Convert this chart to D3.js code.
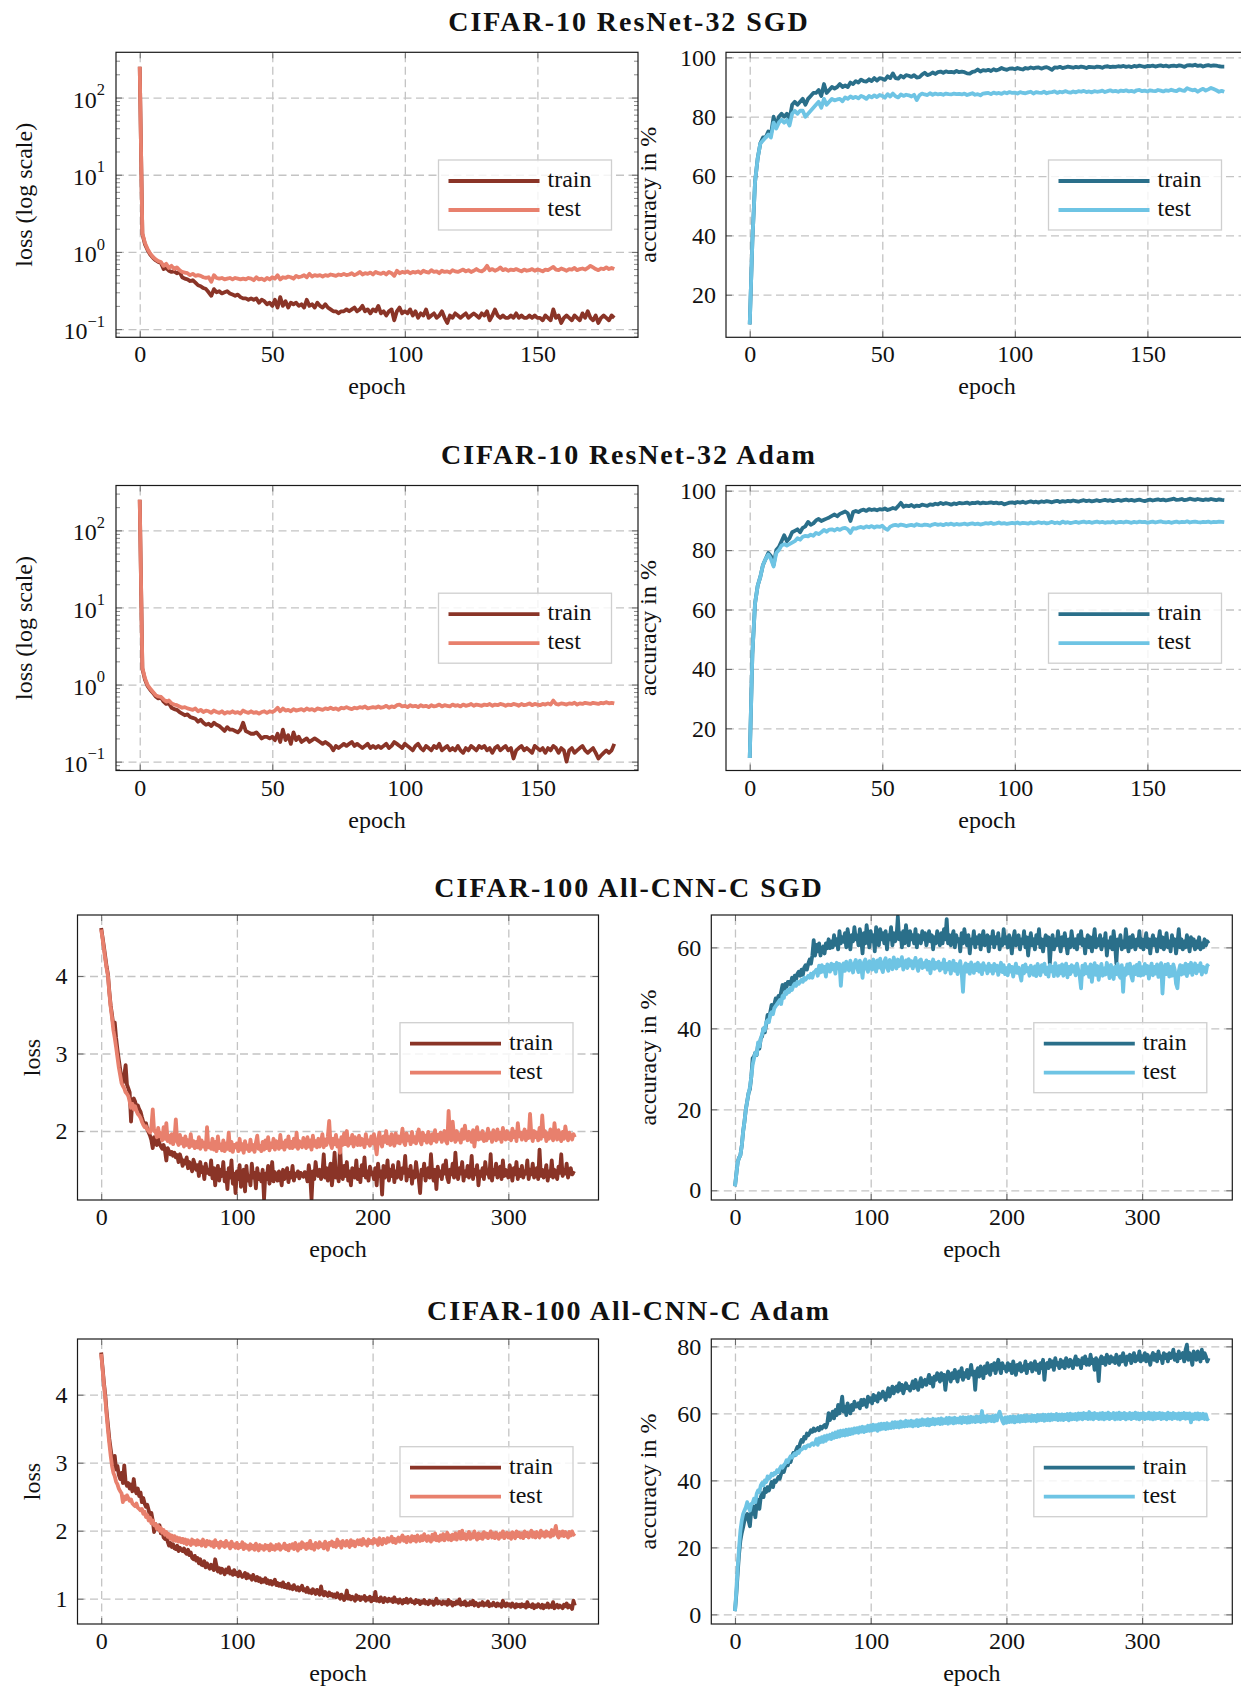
<!DOCTYPE html>
<html><head><meta charset="utf-8">
<script src="https://cdn.jsdelivr.net/npm/d3@7"></script>
<style>
body{margin:0;background:#fff;}
svg{display:block;}
svg text{font-family:"Liberation Serif","Times New Roman",serif !important;fill:#111;}
</style></head><body>
<svg id="fig" width="1241" height="1688"></svg>
<script>
// ---------------- DATA ----------------
const titles = ["CIFAR-10 ResNet-32 SGD","CIFAR-10 ResNet-32 Adam","CIFAR-100 All-CNN-C SGD","CIFAR-100 All-CNN-C Adam"];
const seriesNames = ["train","test"];
const xTicks10 = [0,50,100,150];
const xTicks100 = [0,100,200,300];
const logTicks = [0.1,1,10,100];
const logTickExps = ["−1","0","1","2"];
const accTicks10 = [20,40,60,80,100];
const lossTicksSgd100 = [2,3,4];
const accTicksSgd100 = [0,20,40,60];
const lossTicksAdam100 = [1,2,3,4];
const accTicksAdam100 = [0,20,40,60,80];
const xLabel = "epoch";
const yLabels = ["loss (log scale)","accuracy in %","loss"];

const c10SgdTrainLoss = [250,1.7,1.25,1.05,0.92,0.84,0.78,0.74,0.72,0.6,
0.62,0.57,0.55,0.56,0.53,0.55,0.47,0.45,0.44,0.42,
0.43,0.4,0.37,0.36,0.34,0.33,0.3,0.27,0.33,0.3,
0.31,0.29,0.3,0.31,0.29,0.28,0.27,0.28,0.26,0.25,
0.25,0.24,0.25,0.24,0.25,0.22,0.24,0.23,0.21,0.22,
0.2,0.24,0.19,0.26,0.2,0.23,0.19,0.22,0.21,0.22,
0.2,0.21,0.19,0.24,0.2,0.21,0.19,0.22,0.2,0.19,
0.21,0.19,0.18,0.17,0.17,0.16,0.17,0.17,0.18,0.17,
0.18,0.19,0.17,0.18,0.2,0.17,0.18,0.16,0.18,0.17,
0.2,0.16,0.17,0.15,0.17,0.18,0.13,0.17,0.19,0.16,
0.17,0.16,0.18,0.15,0.17,0.14,0.16,0.15,0.18,0.14,
0.15,0.16,0.14,0.15,0.17,0.14,0.12,0.15,0.14,0.16,
0.15,0.14,0.15,0.16,0.14,0.15,0.16,0.15,0.14,0.16,
0.15,0.17,0.13,0.15,0.18,0.15,0.14,0.15,0.14,0.14,
0.15,0.14,0.16,0.14,0.15,0.14,0.14,0.15,0.14,0.15,
0.14,0.14,0.13,0.15,0.14,0.13,0.18,0.14,0.15,0.12,
0.14,0.15,0.14,0.13,0.15,0.14,0.13,0.16,0.14,0.17,
0.14,0.13,0.15,0.12,0.14,0.15,0.14,0.13,0.15,0.14];
const c10SgdTestLoss = [250,1.75,1.3,1.08,0.95,0.86,0.8,0.76,0.74,0.66,
0.7,0.62,0.66,0.6,0.63,0.58,0.55,0.54,0.53,0.5,
0.52,0.49,0.5,0.49,0.47,0.46,0.47,0.41,0.5,0.46,
0.45,0.46,0.44,0.45,0.46,0.44,0.46,0.45,0.44,0.45,
0.44,0.46,0.45,0.43,0.47,0.44,0.45,0.43,0.46,0.44,
0.47,0.45,0.5,0.44,0.47,0.46,0.48,0.47,0.45,0.49,
0.47,0.48,0.5,0.47,0.52,0.48,0.5,0.49,0.5,0.48,
0.5,0.49,0.51,0.5,0.49,0.51,0.5,0.52,0.5,0.51,
0.53,0.5,0.52,0.55,0.51,0.53,0.52,0.54,0.51,0.55,
0.53,0.52,0.54,0.51,0.55,0.53,0.49,0.57,0.53,0.55,
0.54,0.56,0.53,0.55,0.54,0.56,0.53,0.57,0.55,0.54,
0.58,0.55,0.56,0.53,0.57,0.55,0.56,0.54,0.58,0.56,
0.55,0.57,0.59,0.56,0.58,0.55,0.57,0.6,0.57,0.56,
0.59,0.66,0.58,0.6,0.57,0.59,0.63,0.58,0.6,0.57,
0.59,0.58,0.6,0.58,0.56,0.59,0.57,0.58,0.6,0.57,
0.59,0.58,0.56,0.59,0.58,0.61,0.64,0.59,0.58,0.61,
0.59,0.57,0.6,0.59,0.62,0.58,0.6,0.61,0.59,0.62,
0.66,0.63,0.6,0.58,0.61,0.6,0.63,0.6,0.62,0.6];
const c10SgdTrainAcc = [10,38,58,66,71,73,73,75,74,80,
77,80,81,80,81,79,84,85,84,85,
86,84,86,87,88,88,89,87,91,88,
89,90,89.5,90,91,90,90.5,90,91.5,91,
92,91.5,92.5,92,91.8,92.6,92,93,92.2,93,
92.8,92.4,93.6,93,94.6,93,92.8,93.8,93.2,94,
93.8,93.4,94,93.2,93.3,94.2,94.8,94,94.3,94.9,
94.4,95,95.2,94.8,95.3,95,95.1,94.9,95.4,95,
95.2,95,94.6,94.5,95.1,95.3,95.9,95.2,95.7,95.5,
95.8,95.4,96,95.6,95.9,96.4,96,95.8,96.2,96.3,
96,96.4,96.1,95.9,96.4,96.2,96.6,96.3,96.5,96.6,
96.2,96.5,96.7,96.3,95.8,96.6,96.5,96.8,96.4,96.6,
96.9,96.7,96.5,96.8,96.6,96.9,96.7,96.4,96.8,96.7,
96.6,96.9,96.8,96.5,96.9,97,96.7,96.9,96.8,97,
96.9,97.1,96.8,97,96.7,97.1,96.9,97.2,97,96.8,
97.1,97,97.2,96.9,97.1,97.3,97,97.2,96.9,97.1,
97.2,97,97.3,97.1,96.8,97.3,97.4,97.2,97.5,97.1,
97.3,96.9,97.2,97.4,97.1,97.3,97.2,97,96.9,96.9];
const c10SgdTestAcc = [10,38,58,66,71,72,73,74,73,78,
76,78,79,78,79,77,81,82,81,82,
82,80,81,82,83,84,85,83,86,84,
85,86,85.5,85.8,86,85.2,86.5,86,86.8,86.3,
86.7,86.2,87,86.6,86,87,86.5,87.2,86.6,87.3,
87,86.4,87.6,86.8,87.8,86.9,86.5,87.5,87,87.4,
87.2,86.8,87.4,85.6,87.2,87.8,87.5,87.3,87.9,87.4,
87.8,87.5,87.7,87.4,87.8,87.6,87.5,87.8,87.6,87.7,
87.5,87.8,87.3,87.6,87.9,87.4,87.6,87.2,87.8,87.9,
88,87.6,88.1,87.8,88,87.7,88.2,87.9,88.3,88,
88.1,87.8,88.3,88,87.9,88.2,88.4,87.8,88.3,88.1,
88,88.4,87.9,88.2,88.3,88.5,88,88.4,88.2,88.6,
88.3,88.1,88.5,88.2,88.6,88.4,88.7,88.3,88.5,88.2,
88.6,88.4,88.5,88.8,88.3,88.6,88.9,88.5,88.7,88.4,
88.8,88.6,88.9,88.5,88.7,88.4,88.9,89,88.6,88.8,
88.5,88.9,88.7,88.6,89,88.8,88.5,88.9,88.7,89.1,
88.8,88.6,89.2,88.9,88.7,89.6,89.2,88.9,89.1,88.4,
89,89.4,88.8,89.2,89.7,89.3,88.9,88.4,88.7,88.4];

const c10AdamTrainLoss = [250,1.6,1.15,0.95,0.85,0.78,0.7,0.66,0.68,0.6,
0.56,0.57,0.5,0.48,0.47,0.44,0.42,0.4,0.41,0.38,
0.37,0.36,0.33,0.35,0.32,0.3,0.31,0.29,0.32,0.3,
0.29,0.27,0.25,0.28,0.26,0.26,0.25,0.24,0.26,0.32,
0.25,0.24,0.23,0.23,0.24,0.22,0.2,0.21,0.21,0.2,
0.21,0.19,0.23,0.18,0.26,0.19,0.22,0.17,0.24,0.19,
0.21,0.18,0.19,0.2,0.18,0.19,0.2,0.19,0.18,0.17,
0.18,0.17,0.16,0.14,0.16,0.15,0.16,0.17,0.16,0.17,
0.18,0.16,0.17,0.16,0.15,0.16,0.17,0.15,0.16,0.15,
0.16,0.15,0.16,0.17,0.15,0.16,0.18,0.17,0.16,0.15,
0.17,0.16,0.15,0.14,0.16,0.17,0.15,0.14,0.16,0.15,
0.14,0.16,0.15,0.17,0.14,0.15,0.16,0.14,0.15,0.14,
0.16,0.14,0.13,0.15,0.14,0.16,0.15,0.14,0.16,0.15,
0.16,0.14,0.15,0.13,0.15,0.16,0.14,0.15,0.16,0.14,
0.15,0.11,0.14,0.15,0.16,0.14,0.15,0.14,0.13,0.16,
0.15,0.14,0.15,0.13,0.15,0.14,0.16,0.15,0.13,0.15,
0.14,0.1,0.14,0.15,0.13,0.14,0.15,0.16,0.14,0.13,
0.14,0.15,0.13,0.11,0.12,0.13,0.14,0.13,0.14,0.17];
const c10AdamTestLoss = [250,1.65,1.2,0.98,0.88,0.8,0.73,0.7,0.69,0.64,
0.6,0.62,0.57,0.55,0.54,0.52,0.5,0.51,0.49,0.48,
0.47,0.49,0.45,0.47,0.44,0.46,0.45,0.43,0.46,0.44,
0.43,0.45,0.42,0.44,0.43,0.45,0.43,0.44,0.42,0.46,
0.44,0.43,0.45,0.43,0.44,0.42,0.44,0.45,0.43,0.45,
0.44,0.46,0.5,0.45,0.49,0.46,0.47,0.45,0.48,0.46,
0.47,0.48,0.46,0.49,0.47,0.48,0.46,0.49,0.48,0.47,
0.49,0.48,0.5,0.48,0.49,0.47,0.5,0.49,0.51,0.49,
0.48,0.5,0.49,0.51,0.5,0.52,0.49,0.5,0.51,0.5,
0.52,0.5,0.51,0.53,0.5,0.52,0.51,0.54,0.55,0.52,
0.53,0.51,0.54,0.52,0.53,0.51,0.54,0.52,0.53,0.51,
0.54,0.52,0.53,0.55,0.52,0.54,0.53,0.52,0.55,0.53,
0.54,0.52,0.55,0.53,0.54,0.56,0.53,0.55,0.54,0.53,
0.55,0.54,0.56,0.53,0.55,0.54,0.56,0.55,0.53,0.55,
0.54,0.56,0.55,0.53,0.56,0.54,0.55,0.57,0.54,0.56,
0.55,0.54,0.56,0.55,0.57,0.55,0.62,0.56,0.55,0.57,
0.56,0.55,0.57,0.56,0.58,0.55,0.57,0.56,0.58,0.57,
0.56,0.58,0.57,0.56,0.58,0.57,0.59,0.57,0.58,0.57];
const c10AdamTrainAcc = [10,45,62,68,71,75,77,79,78,75,
80,81,83,85,83,84,86,86.5,87,86,
87.5,88,89.5,88.5,89,90,90.5,89.8,90.2,90.6,
91,91.5,92,91.4,92.2,92.6,93,92.4,89.8,92.8,
93.2,92.8,93.4,93.6,93.2,93.8,93.5,93.7,93.4,93.8,
93.6,94,93.5,93.8,94.2,93.9,94.8,95.9,94.6,95,
94.8,95.2,94.6,95,94.8,95.3,95.1,94.9,95.4,95.2,
95.6,95.4,95.9,95.5,95.8,95.6,95.3,95.7,95.5,95.9,
95.7,95.8,96,95.6,95.9,95.8,96.1,95.7,96,95.8,
95.9,96.1,95.8,96,95.7,95.9,95.4,95.7,96,96.1,
95.8,96.2,96,96.3,95.9,96.2,96.4,96.1,96.3,96,
96.4,96.2,96.5,96.3,96.1,96.4,96.6,96.2,96.5,96.3,
96.6,96.4,96.7,96.5,96.3,96.6,96.8,96.5,96.7,96.4,
96.6,96.8,96.5,96.7,96.9,96.6,96.8,96.5,96.7,96.9,
96.6,96.8,97,96.7,96.9,96.6,96.8,97,96.7,96.5,
96.8,97,96.7,96.9,97.1,96.8,97,96.7,96.9,97.1,
97.3,96.9,97,97.2,96.8,97,97.3,97.1,96.9,97.2,
97,96.8,97.1,96.9,97.2,97,96.8,97.1,96.9,96.8];
const c10AdamTestAcc = [10,45,62,68,71,75,77,78.5,77,74.5,
79,80,81.5,82,81.5,82,82.5,83,84,83.5,
84.5,84.8,84.6,85.2,84.8,85.8,85.4,86,86.8,86.2,
86.9,87,86.6,87.2,86.8,87.3,87.5,87,85.8,87.4,
87.2,87.6,87.8,87.5,88,87.7,88.1,87.6,88,87.8,
88.2,87.3,86.8,87.9,88.3,88.5,88.2,88.6,88.4,88.1,
88.3,88.5,88.2,88.7,88.4,88.3,88.6,88.5,88.2,88.6,
88.8,88.5,88.7,88.4,88.8,88.6,88.9,88.5,88.8,88.6,
88.7,88.9,88.6,88.8,89,88.7,88.9,88.6,88.8,89.1,
88.9,89.2,88.8,89,89.3,88.9,89.1,88.8,89,89.2,
89,89.3,88.9,89.2,89.1,88.9,89.3,89,89.2,89.4,
89.1,89.3,89,89.2,89.5,89.1,89.3,89,89.6,89.2,
89.4,89.1,89.3,89.5,89.2,89.4,89.6,89.3,89.5,89.2,
89.4,89.6,89.3,89.5,89.2,89.4,89.3,89.6,89.2,89.4,
89.5,89.3,89.6,89.4,89.2,89.5,89.3,89.6,89.4,89.5,
89.2,89.4,89.6,89.3,89.5,89.7,89.4,89.3,89.5,89.2,
89.4,89.6,89.3,89.5,89.4,89.7,89.3,89.5,89.6,89.4,
89.3,89.5,89.4,89.6,89.3,89.5,89.4,89.6,89.5,89.4];

const c100SgdTrainLoss = [4.62,4.5,4.38,4.25,4.12,4.02,3.8,3.62,3.5,3.35,
3.4,3.2,3.05,2.92,2.8,2.66,2.62,2.72,2.85,2.6,
2.55,2.5,2.12,2.4,2.42,2.38,2.3,2.33,2.28,2.25,
2.18,2.12,2.08,2.1,2.02,1.98,1.94,1.88,1.78,1.92,
1.86,1.82,1.9,1.84,1.8,1.77,1.82,1.75,1.62,1.78,
1.74,1.7,1.73,1.68,1.72,1.66,1.69,1.6,1.7,1.64,
1.55,1.62,1.58,1.66,1.52,1.6,1.55,1.48,1.63,1.57,
1.5,1.56,1.42,1.6,1.47,1.53,1.38,1.58,1.46,1.5,
1.44,1.62,1.39,1.52,1.3,1.48,1.55,1.36,1.5,1.42,
1.6,1.35,1.46,1.25,1.52,1.4,1.62,1.32,1.45,1.2,
1.48,1.38,1.56,1.28,1.44,1.5,1.22,1.55,1.36,1.42,
1.3,1.58,1.4,1.46,1.26,1.52,1.38,1.44,1.35,1.5,
1.12,1.45,1.38,1.55,1.32,1.42,1.6,1.35,1.47,1.4,
1.36,1.48,1.42,1.3,1.5,1.38,1.44,1.52,1.34,1.46,
1.4,1.55,1.36,1.45,1.42,1.48,1.39,1.46,1.43,1.41,
1.47,1.44,1.35,1.56,1.42,1.12,1.48,1.38,1.6,1.45,
1.42,1.5,1.38,1.46,1.7,1.4,1.52,1.36,1.48,1.58,
1.3,1.45,1.72,1.4,1.5,1.35,1.82,1.44,1.38,1.55,
1.42,1.6,1.36,1.48,1.3,1.52,1.45,1.4,1.62,1.38,
1.5,1.34,1.56,1.43,1.66,1.4,1.48,1.36,1.54,1.44,
1.46,1.38,1.52,1.3,1.58,1.42,1.48,1.18,1.55,1.4,
1.45,1.62,1.36,1.5,1.42,1.56,1.34,1.48,1.4,1.6,
1.44,1.38,1.52,1.46,1.68,1.36,1.5,1.42,1.55,1.32,
1.48,1.4,1.6,1.45,1.38,1.2,1.5,1.43,1.58,1.36,
1.46,1.52,1.4,1.7,1.44,1.36,1.5,1.25,1.54,1.42,
1.48,1.38,1.56,1.45,1.62,1.4,1.34,1.5,1.44,1.58,
1.4,1.72,1.46,1.38,1.52,1.45,1.6,1.36,1.48,1.42,
1.55,1.4,1.46,1.68,1.38,1.5,1.44,1.56,1.3,1.48,
1.42,1.52,1.38,1.6,1.45,1.48,1.4,1.7,1.36,1.5,
1.44,1.58,1.4,1.46,1.54,1.38,1.62,1.42,1.5,1.45,
1.4,1.56,1.47,1.36,1.52,1.44,1.6,1.38,1.5,1.42,
1.55,1.4,1.48,1.45,1.62,1.38,1.5,1.44,1.58,1.4,
1.46,1.52,1.38,1.76,1.42,1.5,1.4,1.45,1.56,1.36,
1.48,1.42,1.62,1.4,1.5,1.44,1.38,1.54,1.46,1.7,
1.42,1.5,1.45,1.58,1.4,1.48,1.52,1.44,1.46,1.45];
const c100SgdTestLoss = [4.6,4.48,4.35,4.22,4.1,4.0,3.78,3.6,3.46,3.3,
3.2,3.08,2.95,2.82,2.72,2.62,2.58,2.55,2.5,2.48,
2.45,2.38,2.3,2.35,2.28,2.32,2.26,2.22,2.2,2.17,
2.12,2.08,2.05,2.06,2.02,2.0,1.98,2.06,2.28,2.0,
2.0,1.92,2.04,1.93,1.97,1.88,2.05,1.9,2.1,1.87,
1.94,1.85,1.96,1.83,1.9,2.15,1.87,1.82,1.95,1.84,
1.9,1.8,1.93,1.82,1.88,1.79,1.96,1.81,1.87,1.78,
1.86,1.79,1.92,1.77,1.88,1.8,1.85,1.76,2.05,1.79,
1.84,1.77,1.9,1.76,1.86,1.74,1.93,1.78,1.83,1.75,
1.88,1.74,1.84,1.77,1.98,1.75,1.86,1.73,1.82,1.79,
1.84,1.74,1.9,1.76,1.83,1.72,1.87,1.77,1.81,1.74,
1.89,1.76,1.82,1.73,1.85,1.94,1.77,1.81,1.74,1.86,
1.76,1.88,1.78,1.92,1.75,1.84,1.79,1.9,1.76,1.87,
1.82,1.77,1.95,1.79,1.85,1.76,1.88,1.8,1.93,1.78,
1.86,1.78,1.9,1.8,1.98,1.77,1.87,1.82,1.79,1.91,
1.84,1.78,1.92,1.8,1.88,1.76,1.94,1.81,1.87,1.79,
1.9,1.8,1.86,1.96,1.79,1.89,1.82,1.93,2.13,1.84,
1.78,1.9,1.83,1.95,1.8,1.88,1.72,1.92,1.82,1.97,
1.83,2.0,1.81,1.9,1.84,1.95,1.8,1.92,1.86,1.82,
1.94,1.82,1.9,1.85,1.79,1.96,1.84,1.88,1.81,1.93,
1.84,1.96,1.82,1.7,1.89,1.98,1.85,1.8,1.93,1.86,
2.0,1.84,1.92,1.82,1.96,1.87,1.81,1.97,1.85,1.93,
1.84,1.9,2.03,1.86,1.82,1.97,1.88,1.93,1.83,1.99,
1.86,1.92,1.84,1.96,2.02,1.87,1.83,1.98,1.88,1.94,
1.85,1.99,1.89,1.84,1.96,1.88,2.01,1.86,1.95,1.9,
1.98,1.86,1.93,2.0,1.87,1.84,2.26,1.92,1.88,2.12,
1.94,1.86,2.0,1.89,1.96,1.85,2.02,1.9,2.07,1.93,
1.88,1.99,1.91,1.86,2.01,1.8,1.95,2.05,1.89,1.97,
1.9,2.0,1.87,1.96,1.88,2.03,1.91,1.97,1.86,2.01,
1.95,1.88,2.02,1.9,1.98,1.86,2.04,1.92,1.89,2.0,
1.9,1.97,1.88,2.03,1.92,1.99,1.87,2.1,1.93,1.98,
1.89,1.96,2.02,1.88,1.99,1.91,2.22,1.94,1.87,2.0,
1.92,1.98,1.88,2.04,1.9,2.2,1.93,2.0,1.87,1.97,
1.9,2.02,1.95,1.88,2.1,1.94,1.89,2.01,1.92,1.87,
1.99,1.9,2.06,1.95,1.88,1.98,1.93,1.89,1.96,1.92];
const c100SgdTrainAcc = [1,4,7,8,8.7,11,14.5,17,20,22,
24,25,28,32.6,33,34,33.4,36,35,37.5,
38,40,39,41,43.3,42,44,45.8,44.5,46,
47.4,46,48,47.4,49,50.7,49.5,51,50.2,51.5,
51.5,50.8,52.5,51.5,53,52,53.5,54,53,54.5,
53.2,55,55.6,54.5,56,57,56,58,61.8,58,
60.6,59,61,58,59.5,60.2,58.5,61,59.8,62,
59.8,61.5,60,63,60.6,62,59.5,64,61,62.5,
61.4,63.5,60,64.5,62,59.5,63,61.5,65,62,
63,60.5,64.5,62,58.5,63.5,61,65.5,62.5,60,
64,61.5,63,59,65,62,60.5,64.5,62,63.5,
61,64,59.5,63,62,65,60.5,63.5,61.5,62.5,
67.6,62,63.5,60,64,61,65.5,62.5,60.5,64,
62,63,61,64.5,60,63,62.5,61,64,62,
63.5,60.5,62,64,61.5,63,59.5,62.5,61,64,
62,60.5,63.5,61,64.5,62,67,61,63,60.5,
62.5,64,60,63,61.5,62,59,63.5,61,64.5,
62,60.5,63,58.5,62,61,64,60,62.5,61,
63,59.5,62,64,60.5,61.5,63,59,62.5,61,
64,60,62.5,61,63.5,59.5,62,60.5,64.5,61,
62.5,60,63,61.5,58.5,62,64,60.5,61.5,63,
59.5,62,61,64,60,62.5,58,61.5,63.5,60.5,
62,59.5,63,61,64.5,60,62,59,61.5,63,
60.5,62.5,56,61,63,59.5,62,60.5,64,61,
59,62.5,60.5,63.5,61,58.5,62,60,64,61.5,
60,62,59.5,63,61,64,60.5,62,58.5,61.5,
63,60,62.5,59,61.5,64.5,60,62,60.5,63,
59.5,62,60.5,63.5,58,61.5,60,62.5,59.5,64,
61,56,62,60.5,63,59.5,61.5,60,64.5,61,
59,62.5,60,63,61,59.5,62,60.5,64,60,
62,59.5,61.5,63.5,60,62,58.5,61.5,63,60.5,
62,59,61.5,64,60,62.5,59.5,61,63.5,60,
61.5,59,63,60.5,62,58.5,61,64.5,60,62,
59.5,61.5,60,63,61,59,62.5,60.5,62,59.5,
61.5,60,62.5,59.5,61,60,62,60.5,61.5,61];
const c100SgdTestAcc = [1,4,7,8,8.7,11,14.5,17,20,22,
24,25.5,28,31,32.5,34,33.5,36.5,35.5,37.5,
38.5,40,39.5,41.5,42,41.5,43.5,44,43.5,45,
45.5,46,46.5,47,46,48,47.5,49,48.5,49.5,
49,50,49.5,50.5,51,50.5,51.5,51,51.5,52,
51.5,52.5,52,52.5,53,52.5,53.5,52.5,53.8,54,
54.5,53,55.5,53.8,55.6,54,55.2,52.8,55.8,55.3,
54,56,54.6,55.7,53.5,56.2,54.8,55.9,50.5,55.2,
56,54.2,56.5,55,54.3,56.7,55.4,53.8,56,56.9,
55,53.9,56.7,55.2,52.5,56.3,57,54.8,54,56.6,
56.2,54.5,57,55.3,54,56.8,55,57.2,54.8,53.9,
56.5,57.3,55,54.2,56.9,55.8,54.6,57.5,56,54.8,
57,55.4,56.3,57.6,54.5,55.9,56.8,54.9,57.1,55.5,
56.6,54.8,56.2,57.4,55.3,54.2,56.7,57,54.9,56.1,
55.2,56.8,54.5,56.4,53.6,55.8,57,54.7,56.2,55,
56.5,54.3,56,54.8,57,53.8,55.9,54.6,56.4,53.5,
55.6,56.7,54.2,55.9,53.4,55.3,56.6,53.8,49,55.2,
56,54,55.7,53.5,56.3,54.9,53.7,55.8,54.4,56.2,
54,55.6,53.4,56.1,54.5,55.3,53.6,56,54.2,55.4,
53.5,55.9,54.3,55.5,53.2,54.8,56.2,53.9,55.6,53.4,
54.9,53.1,55.7,54,55.2,52.8,54.6,56,53.7,55,
53.3,51.8,55.4,53.6,55.8,54.1,54.9,53,55.5,54.2,
53.2,55.3,52.9,55.9,54.4,53.1,55.6,54,56,53.4,
55,52.8,55.7,54.1,55.2,52.9,56.1,54.5,53,55.4,
53.6,55.8,53,54.7,56,52.6,55.2,53.4,55.6,54,
55.3,53.1,56,54.4,52.9,49.9,55.5,53.3,55.9,53.6,
55.1,52.7,55.8,51.5,54.6,56.1,53.2,55.4,52,54.3,
55.9,53,54.8,53.3,56.2,54.5,52.4,55.7,53.8,52.2,
55.2,53.4,55.9,53.1,52.5,55.6,49,54.8,53.2,55.8,
53.6,56,52.9,51.8,55.3,53.4,55.7,53.1,56.2,53,
55.1,53.2,55.9,53.6,55.4,52.3,54.7,56,53.1,55.2,
53.5,55.8,52.7,55,56.1,48.6,54.2,55.7,53.4,55.9,
52.8,55.2,53,55.8,54.5,51,49.9,54.1,55.6,53.3,
55.4,53.5,56,52.9,55.7,53.8,56.2,53.2,55.1,56,
53.6,55.5,54.2,56.1,53.3,55.2,54.9,53.8,55.6,55.2];

const c100AdamTrainLoss = [4.62,4.4,4.18,4.0,3.75,3.55,3.35,3.2,3.05,2.96,
3.1,2.9,2.95,2.82,2.76,2.85,2.7,2.96,2.72,2.66,
2.7,2.62,2.68,2.58,2.76,2.6,2.55,2.62,2.51,2.56,
2.42,2.48,2.4,2.35,2.38,2.3,2.22,2.26,2.15,1.98,
2.1,2.04,2.02,2.08,1.96,2.0,1.9,1.88,1.94,1.84,
1.78,1.82,1.76,1.8,1.74,1.73,1.78,1.7,1.75,1.72,
1.7,1.74,1.68,1.66,1.72,1.64,1.68,1.6,1.58,1.63,
1.56,1.6,1.52,1.58,1.5,1.49,1.55,1.46,1.52,1.47,
1.44,1.5,1.46,1.42,1.58,1.48,1.4,1.45,1.38,1.44,
1.41,1.36,1.43,1.39,1.46,1.37,1.4,1.35,1.42,1.36,
1.38,1.33,1.4,1.35,1.32,1.34,1.38,1.3,1.36,1.31,
1.33,1.28,1.35,1.3,1.27,1.32,1.26,1.3,1.24,1.28,
1.25,1.3,1.23,1.27,1.22,1.26,1.21,1.24,1.28,1.2,
1.23,1.19,1.22,1.18,1.24,1.17,1.2,1.16,1.22,1.15,
1.18,1.14,1.2,1.16,1.13,1.17,1.12,1.15,1.19,1.12,
1.14,1.1,1.16,1.09,1.12,1.08,1.14,1.1,1.07,1.13,
1.09,1.06,1.18,1.08,1.05,1.1,1.06,1.04,1.09,1.05,
1.07,1.03,1.06,1.02,1.08,1.04,1.0,1.06,1.03,0.98,
1.02,1.12,1.0,1.04,0.99,1.03,1.01,0.97,1.05,1.0,
1.03,0.98,1.02,1.0,1.04,0.97,1.01,0.99,1.03,0.96,
1.01,0.98,1.1,0.97,1.0,0.96,1.02,0.98,0.95,1.01,
0.98,0.96,1.0,0.97,0.99,0.95,1.02,0.96,0.98,0.94,
0.99,0.96,0.93,0.98,0.95,1.0,0.94,0.97,0.99,0.95,
0.96,0.93,0.98,0.95,0.97,0.92,0.96,0.94,0.98,0.93,
0.95,0.92,0.97,0.94,0.96,0.91,0.95,1.0,0.93,0.96,
0.94,0.92,0.96,0.93,0.95,0.91,0.98,0.93,0.95,0.9,
0.94,0.92,0.96,0.93,0.99,0.91,0.94,0.92,0.96,0.9,
0.93,0.91,0.95,0.92,0.97,0.9,0.94,0.92,0.89,0.93,
0.91,0.95,0.9,0.93,0.91,0.96,0.89,0.92,0.9,0.94,
0.91,0.89,0.93,0.9,0.92,0.88,0.97,0.91,0.89,0.93,
0.9,0.92,0.88,0.93,0.9,0.87,0.92,0.89,0.91,0.88,
0.92,0.89,0.91,0.87,0.95,0.89,0.9,0.88,0.92,0.86,
0.9,0.88,0.92,0.89,0.87,0.91,0.86,0.9,0.88,0.93,
0.87,0.9,0.88,0.95,0.86,0.89,0.91,0.87,0.9,0.88,
0.86,0.91,0.89,0.93,0.87,0.9,0.88,0.85,0.97,0.9];
const c100AdamTestLoss = [4.6,4.38,4.15,3.95,3.7,3.48,3.28,3.1,2.95,2.85,
2.8,2.72,2.68,2.62,2.58,2.55,2.42,2.5,2.46,2.52,
2.48,2.44,2.46,2.4,2.38,2.36,2.4,2.34,2.32,2.3,
2.32,2.25,2.28,2.2,2.23,2.15,2.19,2.11,2.15,2.08,
2.1,2.03,2.07,2.0,2.04,1.97,2.01,1.94,1.98,1.91,
1.95,1.88,1.93,1.86,1.92,1.85,1.9,1.84,1.89,1.83,
1.88,1.82,1.87,1.8,1.86,1.83,1.79,1.87,1.81,1.85,
1.79,1.86,1.8,1.84,1.78,1.87,1.81,1.77,1.85,1.8,
1.84,1.78,1.83,1.76,1.86,1.79,1.82,1.75,1.84,1.78,
1.82,1.76,1.85,1.78,1.81,1.74,1.84,1.77,1.8,1.75,
1.82,1.74,1.79,1.76,1.83,1.73,1.8,1.75,1.78,1.72,
1.8,1.74,1.78,1.72,1.81,1.75,1.71,1.79,1.74,1.77,
1.72,1.79,1.74,1.78,1.71,1.8,1.73,1.77,1.72,1.79,
1.74,1.8,1.72,1.77,1.75,1.81,1.73,1.78,1.71,1.79,
1.75,1.8,1.73,1.82,1.76,1.71,1.8,1.74,1.83,1.76,
1.8,1.73,1.81,1.75,1.85,1.74,1.79,1.72,1.82,1.77,
1.75,1.83,1.77,1.8,1.74,1.84,1.78,1.72,1.82,1.79,
1.84,1.77,1.82,1.76,1.87,1.79,1.83,1.75,1.85,1.8,
1.78,1.85,1.8,1.76,1.86,1.79,1.84,1.77,1.83,1.86,
1.8,1.86,1.79,1.88,1.81,1.84,1.78,1.87,1.82,1.85,
1.81,1.88,1.83,1.86,1.79,1.89,1.84,1.8,1.88,1.85,
1.82,1.89,1.84,1.87,1.91,1.83,1.88,1.82,1.87,1.9,
1.84,1.89,1.93,1.85,1.9,1.83,1.91,1.87,1.84,1.92,
1.86,1.91,1.84,1.93,1.88,1.85,1.92,1.86,1.95,1.89,
1.85,1.92,1.88,1.84,1.94,1.87,1.96,1.86,1.91,1.85,
1.93,1.87,1.95,1.86,1.91,1.97,1.87,1.93,1.86,1.94,
1.88,1.96,1.87,1.93,1.98,1.88,2.0,1.89,1.95,1.87,
1.94,1.98,1.88,1.95,1.9,1.99,1.91,1.87,1.96,1.89,
1.95,1.88,1.98,1.91,1.96,1.89,1.94,1.99,1.9,1.96,
1.89,1.97,1.92,1.88,1.96,1.91,1.99,1.89,1.94,1.97,
1.9,1.96,1.88,1.98,1.93,1.89,1.99,1.92,1.97,1.9,
1.96,1.89,1.99,1.92,1.97,1.9,1.95,2.0,1.91,1.97,
1.9,1.98,1.94,1.9,2.0,1.93,1.97,1.91,1.99,1.93,
1.97,1.91,2.01,1.93,1.98,2.07,1.94,1.9,1.98,1.93,
1.99,1.92,1.98,1.94,1.9,1.98,1.93,1.99,1.94,1.96];
const c100AdamTrainAcc = [1,6,12.3,18,22,24.3,26,28,29.3,30,
28,26.3,31,30,32.2,29,33,34.2,31.5,35,
36.2,35,37.5,36.5,38,37,38.2,39.5,38,40,
39.5,40.2,41,40.5,42,43.5,42.5,44,45.2,44.5,
46,45.5,47,48.2,47.5,49,50,49.5,51,52.1,
51.5,53,52.5,54,53.5,54.1,55,54.5,55.5,54.8,
55.1,55.6,55,56,55.5,56.1,56.5,55.8,57,60.1,
58,59,60.5,58.5,61,59.5,62.5,60,62.1,65,
60.5,62,59.5,63,61.1,60,62.5,61,63.5,62,
62.1,63,61.5,64,62.5,64.1,63,62,65,63.5,
64.5,63,65.5,64,65.1,63.5,66,64.5,65,66.5,
65.5,64,66.1,67.5,65,66.5,68,66,67.5,68,
66.5,69,67,68.5,66,67.5,69,67.5,68,66.8,
68,69.5,67.5,70,68.5,67,69,70.5,68,69.5,
70,68.5,70,71.5,69,70.5,68,71,70,72,
71,69.5,72,70,71.5,67,70.5,72.5,71,69.5,
72,70.5,73,71,69.5,72.5,71,73.5,70,72,
71,73,70.5,72,74.5,71.5,72.5,67,72.5,73.5,
71,74,72.5,70.5,74,72,75,73,71.5,74.5,
73,75,72,74,76,73.5,72,75,73.5,74,
72.5,75,73,74.5,72,75.5,73.5,71.5,74.5,73,
75,72.5,74,73,75.5,72,74.5,73.5,75,72.5,
74,75.5,73,74.5,72,75,73.5,76,70,74.5,
75,73.5,76,74,75.5,73,76.5,74.5,75,73.5,
76,74,75.5,73.5,76.5,75,74,76,75.5,73.5,
75.5,77,74.5,76,75,73.5,76.5,75,77,74.5,
76,74.5,77.5,75,76,73,76.5,75.5,69.6,76,
77,75,76.5,74.5,77.5,76,75,77,75.5,76.5,
75,77.5,76,74.5,77,75.5,78,76,74.5,77,
76,77.5,75,76.5,78,75.5,77,76,78.5,75.5,
77,76,78,75.5,77.5,76.5,74.5,77,78,76,
77.5,75.5,78.5,76.5,77,75,78,76.5,77.5,75.5,
78,76.5,77,79,76,77.5,75.5,78.5,76.5,77,
78,75.5,79,80.5,76,78,76.5,74.5,78.5,77,
76,78.5,77,75.5,79,76.5,78,77,75.5,76.5];
const c100AdamTestAcc = [1,7,14,20,25,28,30,31,32,33.5,
32,31,33,33.2,34.5,33.5,36,37,36.5,38.5,
39.2,38.5,40,39.5,41.2,40.5,41,42,41.5,42.2,
42,43,42.5,43.5,44.2,43.8,44.5,45,46,45.5,
46.5,47.2,46.8,47.5,48,47.6,48.5,48.2,49,49.2,
49.5,50,49.6,50.3,50.5,50.2,50.8,51.1,50.6,51.1,
52.3,50.6,52.6,51.4,52.9,51.5,53.2,51.8,53.4,52.4,
53.6,52.3,54,52.7,54.3,52.9,54.6,53.1,54.8,53.4,
54.9,53.4,55.1,53.6,55.2,53.8,55.3,54,55.5,54.3,
55.6,54.2,55.8,54.5,56,54.4,55.9,54.7,56.3,54.8,
56.4,54.9,56.6,55.1,56.5,54.8,56.8,55.2,56.9,55.4,
56.9,55.3,57.1,55.5,56.8,55.6,57.3,55.7,57.4,55.9,
57.3,55.8,57.6,56,57.4,56.1,57.8,56.2,57.6,56.3,
57.8,56.1,57.6,56.4,58,56.2,57.9,56.5,58.2,56.6,
58,56.5,58.3,56.4,58.1,56.8,58.4,56.7,58.2,57,
58.3,56.8,58.5,56.9,58.2,57.1,58.6,56.9,58.7,57.2,
58.5,57,58.7,57.2,58.4,57.3,58.8,57.1,58.9,57.4,
58.7,57.2,58.9,57.3,59,57.5,58.8,57.4,59.1,57.6,
58.9,57.4,60.7,57.6,59.1,57.5,59.2,57.8,59,57.7,
59.2,57.6,59.4,57.9,59.5,60.5,59.1,57.7,57,58.8,
57.2,58.9,57.4,59,57.5,59.1,57.3,58.9,57.6,59.2,
57.5,59.2,57.7,59.3,57.6,59.4,57.8,59.1,57.7,59.4,
57.8,59.3,57.6,59.5,57.9,59.4,58,59.6,57.8,59.5,
58,59.6,57.9,59.7,58.1,59.5,58.2,59.8,58,59.6,
58.1,59.7,58,59.6,58.3,59.8,57.9,59.9,58.2,59.7,
58.3,59.8,58.1,60,58.4,59.9,58.2,60.1,58.5,59.9,
58.3,60.4,58.4,59.9,58.2,60.1,58.6,59.8,58.3,60,
58.4,60.1,58.2,59.9,58.5,60.2,58.3,59.8,58.6,60.1,
58.2,60,58.4,60.2,58.3,59.9,58.6,60.1,58.2,59.8,
58.5,60.1,58.3,59.9,58.6,60.2,58.4,60,58.2,59.9,
58.6,60.1,58.3,59.8,58.5,60.2,58.4,60,58.2,60.1,
58.4,59.9,58.6,60.1,58.3,60,58.5,59.8,58.2,60.2,
58.5,59.9,58.3,60.1,58.6,59.8,58.4,60,58.2,59.9,
58.6,60.1,58.4,59.9,58.5,60,57.3,59.7,58.3,59.9,
58.4,60,58.2,59.8,58.5,59.9,58.3,59.7,58.2,58.6];

// ---------------- LAYOUT / STYLE ----------------
const COL = {trainLoss:"#8a3427", testLoss:"#e8806d", trainAcc:"#2a6f8a", testAcc:"#6ec4e4"};
const PH = 285;
const FONT = 24;
const FF = "Liberation Serif";
const svg = d3.select("#fig");

const panels = [
  {x:116, y:52.3, w:522, xd:[-8.95,187.95], xt:xTicks10, log:true, yd:[Math.pow(10,-1.106),Math.pow(10,2.586)], yt:logTicks,
   tr:c10SgdTrainLoss, te:c10SgdTestLoss, ct:COL.trainLoss, ce:COL.testLoss, yl:yLabels[0], ylx:31.5},
  {x:726, y:52.3, w:522, xd:[-8.95,187.95], xt:xTicks10, log:false, yd:[5.65,101.7], yt:accTicks10,
   tr:c10SgdTrainAcc, te:c10SgdTestAcc, ct:COL.trainAcc, ce:COL.testAcc, yl:yLabels[1], ylx:656},
  {x:116, y:485.5, w:522, xd:[-8.95,187.95], xt:xTicks10, log:true, yd:[Math.pow(10,-1.115),Math.pow(10,2.582)], yt:logTicks,
   tr:c10AdamTrainLoss, te:c10AdamTestLoss, ct:COL.trainLoss, ce:COL.testLoss, yl:yLabels[0], ylx:31.5},
  {x:726, y:485.5, w:522, xd:[-8.95,187.95], xt:xTicks10, log:false, yd:[5.8,101.75], yt:accTicks10,
   tr:c10AdamTrainAcc, te:c10AdamTestAcc, ct:COL.trainAcc, ce:COL.testAcc, yl:yLabels[1], ylx:656},
  {x:77.5, y:915, w:521, xd:[-17.45,366.45], xt:xTicks100, log:false, yd:[1.11,4.787], yt:lossTicksSgd100,
   tr:c100SgdTrainLoss, te:c100SgdTestLoss, ct:COL.trainLoss, ce:COL.testLoss, yl:yLabels[2], ylx:40},
  {x:711.3, y:915, w:521, xd:[-17.45,366.45], xt:xTicks100, log:false, yd:[-2.4,68], yt:accTicksSgd100,
   tr:c100SgdTrainAcc, te:c100SgdTestAcc, ct:COL.trainAcc, ce:COL.testAcc, yl:yLabels[1], ylx:656},
  {x:77.5, y:1339, w:521, xd:[-17.45,366.45], xt:xTicks100, log:false, yd:[0.628,4.819], yt:lossTicksAdam100,
   tr:c100AdamTrainLoss, te:c100AdamTestLoss, ct:COL.trainLoss, ce:COL.testLoss, yl:yLabels[2], ylx:40},
  {x:711.3, y:1339, w:521, xd:[-17.45,366.45], xt:xTicks100, log:false, yd:[-2.87,82.2], yt:accTicksAdam100,
   tr:c100AdamTrainAcc, te:c100AdamTestAcc, ct:COL.trainAcc, ce:COL.testAcc, yl:yLabels[1], ylx:656}
];

const titlePos = [
  {y:30.7, len:359.5}, {y:463.9, len:373.8}, {y:896.5, len:387.5}, {y:1320, len:401.8}
];

titles.forEach((t,i)=>{
  svg.append("text").attr("x",628).attr("y",titlePos[i].y)
    .attr("text-anchor","middle").attr("font-weight","bold").attr("font-size",28)
    .attr("font-family",FF)
    .attr("textLength",titlePos[i].len).attr("lengthAdjust","spacing")
    .text(t);
});

function styleAxis(sel, color, width, dash){
  sel.select(".domain").remove();
  sel.selectAll(".tick line").attr("stroke",color).attr("stroke-width",width);
  if(dash) sel.selectAll(".tick line").attr("stroke-dasharray",dash);
}

panels.forEach((p,i)=>{
  const g = svg.append("g").attr("transform",`translate(${p.x},${p.y})`);
  const x = d3.scaleLinear().domain(p.xd).range([0,p.w]);
  const y = (p.log ? d3.scaleLog() : d3.scaleLinear()).domain(p.yd).range([PH,0]);

  const cid = "clip"+i;
  g.append("clipPath").attr("id",cid).append("rect").attr("width",p.w).attr("height",PH);

  // grid
  const gx = g.append("g").attr("transform",`translate(0,${PH})`)
    .call(d3.axisBottom(x).tickValues(p.xt).tickSize(-PH).tickFormat(""));
  styleAxis(gx,"#c4c4c4",1.3,"8,4.5");
  const gy = g.append("g").call(d3.axisLeft(y).tickValues(p.yt).tickSize(-p.w).tickFormat(""));
  styleAxis(gy,"#c4c4c4",1.3,"8,4.5");

  // inner tick marks
  const tk = "#6a6a6a";
  styleAxis(g.append("g").attr("transform",`translate(0,${PH})`).call(d3.axisBottom(x).tickValues(p.xt).tickSize(-6).tickFormat("")),tk,1);
  styleAxis(g.append("g").call(d3.axisTop(x).tickValues(p.xt).tickSize(-6).tickFormat("")),tk,1);
  styleAxis(g.append("g").call(d3.axisLeft(y).tickValues(p.yt).tickSize(-6).tickFormat("")),tk,1);
  styleAxis(g.append("g").attr("transform",`translate(${p.w},0)`).call(d3.axisRight(y).tickValues(p.yt).tickSize(-6).tickFormat("")),tk,1);
  if(p.log){
    const minor = [];
    [0.01,0.1,1,10,100].forEach(b=>{ for(let k=2;k<=9;k++){ const v=b*k; if(v>=p.yd[0] && v<=p.yd[1]) minor.push(v);} });
    styleAxis(g.append("g").call(d3.axisLeft(y).tickValues(minor).tickSize(-4).tickFormat("")),"#8a8a8a",1);
    styleAxis(g.append("g").attr("transform",`translate(${p.w},0)`).call(d3.axisRight(y).tickValues(minor).tickSize(-4).tickFormat("")),"#8a8a8a",1);
  }

  // lines
  const line = d3.line().x((d,j)=>x(j)).y(d=>y(d));
  const lg = g.append("g").attr("clip-path",`url(#${cid})`);
  lg.append("path").datum(p.tr).attr("d",line).attr("fill","none").attr("stroke",p.ct)
    .attr("stroke-width",3.8).attr("stroke-linejoin","round");
  lg.append("path").datum(p.te).attr("d",line).attr("fill","none").attr("stroke",p.ce)
    .attr("stroke-width",3.8).attr("stroke-linejoin","round");

  // box
  g.append("rect").attr("width",p.w).attr("height",PH).attr("fill","none")
    .attr("stroke","#1a1a1a").attr("stroke-width",1.2);

  // tick labels
  const lx = g.append("g").attr("transform",`translate(0,${PH})`)
    .call(d3.axisBottom(x).tickValues(p.xt).tickSize(0).tickPadding(8).tickFormat(d3.format("d")));
  lx.select(".domain").remove();
  lx.attr("font-family",FF).attr("font-size",FONT);
  lx.selectAll("text").attr("font-size",FONT).attr("font-family",FF).attr("fill","#111");

  if(p.log){
    const ly = g.append("g")
      .call(d3.axisLeft(y).tickValues(p.yt).tickSize(0).tickPadding(11).tickFormat(()=>"10"));
    ly.select(".domain").remove();
    ly.attr("font-family",FF).attr("font-size",FONT);
    ly.selectAll("text").attr("font-size",FONT).attr("font-family",FF).attr("fill","#111")
      .attr("dy","0.4em")
      .each(function(d,k){
        d3.select(this).append("tspan").attr("font-size",16.5).attr("dy","-0.75em").text(logTickExps[k]);
      });
  } else {
    const ly = g.append("g")
      .call(d3.axisLeft(y).tickValues(p.yt).tickSize(0).tickPadding(10).tickFormat(d3.format("d")));
    ly.select(".domain").remove();
    ly.attr("font-family",FF).attr("font-size",FONT);
    ly.selectAll("text").attr("font-size",FONT).attr("font-family",FF).attr("fill","#111");
  }

  // axis labels
  svg.append("text").attr("x",p.x+Math.min(p.w,1241-p.x+7)/2).attr("y",p.y+PH+57)
    .attr("text-anchor","middle").attr("font-size",FONT).attr("font-family",FF).text(xLabel);
  svg.append("text").attr("transform",`translate(${p.ylx},${p.y+PH/2}) rotate(-90)`)
    .attr("text-anchor","middle").attr("font-size",FONT).attr("font-family",FF).text(p.yl);

  // legend
  const L = g.append("g").attr("transform","translate(322.5,107.7)");
  L.append("rect").attr("width",173).attr("height",70).attr("fill","#fff").attr("fill-opacity",0.82)
    .attr("stroke","#cfcfcf").attr("stroke-width",1.3);
  [[seriesNames[0],p.ct,21],[seriesNames[1],p.ce,50]].forEach(([nm,c,yy])=>{
    L.append("line").attr("x1",10).attr("x2",101).attr("y1",yy).attr("y2",yy)
      .attr("stroke",c).attr("stroke-width",3.8);
    L.append("text").attr("x",109).attr("y",yy+6).attr("font-size",FONT).attr("font-family",FF).text(nm);
  });
});
</script>
</body></html>
